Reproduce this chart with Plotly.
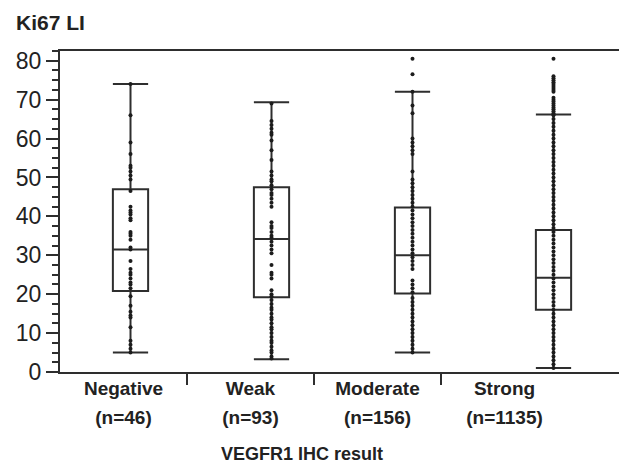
import plotly.graph_objects as go

categories = ["Negative", "Weak", "Moderate", "Strong"]
n_labels = ["(n=46)", "(n=93)", "(n=156)", "(n=1135)"]

q1 = [20.8, 19.2, 20.2, 16.0]
median = [31.5, 34.2, 30.0, 24.2]
q3 = [47.0, 47.5, 42.3, 36.5]
lowerfence = [5.0, 3.3, 5.0, 1.0]
upperfence = [74.0, 69.3, 72.0, 66.2]

negative_pts = [74, 66, 59, 56, 53, 52.5, 51.5, 50.5, 49.5, 46.5, 42.5, 41.5, 41, 40.5,
                39.5, 39, 36, 35.5, 35, 34, 32, 31.5, 28.5, 26.5, 25.5, 25, 24, 23,
                22.5, 21.5, 19.5, 17, 15.5, 14.5, 14, 11.5, 8, 7, 6, 5]
weak_pts = [69, 64.5, 63.5, 62.5, 61.5, 61, 59.5, 57, 54.5, 51.5, 50.5, 49.5, 49, 48,
            47, 46, 45.5, 44.5, 43.5, 42.5, 38.5, 37.5, 37, 36, 35, 34.5, 33.5, 32.5,
            31.5, 30.5, 27.5, 25.5, 25, 24, 21, 20, 19.5, 18.5, 17.5, 16.5, 16, 15,
            14, 13.5, 12.5, 11.5, 11, 10, 9, 8, 7.5, 6.5, 5.5, 5, 4, 3.5]
moderate_pts = [80.5, 76.5, 72, 68.5, 66.5, 60, 59, 58, 57, 56, 51.5, 49.5, 48.5, 47.5,
                46.5, 45.5, 44.5, 43.5, 42.5, 41.5, 40.5, 39.5, 38.5, 37.5, 36.5, 35.5,
                34.5, 33.5, 32.5, 31.5, 30.5, 29.5, 28.5, 27.5, 26.5, 23.5, 22.5, 21.5,
                20.5, 19, 18, 17, 16, 15, 14, 13, 12, 11, 10, 9, 8, 7, 6, 5]
strong_pts = [80.5, 76, 75.5, 75, 74.5, 74, 73.5, 73, 72.5, 72, 70.5, 70, 69.5, 69,
              68.5, 68, 67.5, 67, 66.5, 66, 65, 64, 63, 62, 61, 60, 59, 58, 57, 56,
              55, 54, 53, 52, 51, 50, 49, 48, 47, 46, 45, 44, 43, 42, 41, 40, 39, 38,
              37, 36, 35, 34, 33, 32, 31, 30, 29, 28, 27, 26, 25, 24, 23, 22, 21, 20,
              19, 18, 17, 16, 15, 14, 13, 12, 11, 10, 9, 8, 7, 6, 5, 4, 3, 2, 1]

point_sets = [negative_pts, weak_pts, moderate_pts, strong_pts]

LINE = "#2e2e2e"
FONT = "Liberation Sans, Arial, sans-serif"

fig = go.Figure()
fig.add_trace(go.Box(
    x=categories, q1=q1, median=median, q3=q3,
    lowerfence=lowerfence, upperfence=upperfence,
    fillcolor="white", line=dict(color=LINE, width=2),
    width=0.25, whiskerwidth=1, boxpoints=False, showlegend=False,
    hoverinfo="skip",
))

px_x, px_y = [], []
for cat, vals in zip(categories, point_sets):
    px_x += [cat] * len(vals)
    px_y += vals
fig.add_trace(go.Scatter(
    x=px_x, y=px_y, mode="markers",
    marker=dict(color="#1c1c1c", size=4, line=dict(width=0)),
    showlegend=False,
))

axis_common = dict(showline=False, showgrid=False, zeroline=False, automargin=False)

# page body has an 8px margin, so the figure is 8px smaller than the window
fig.update_layout(
    width=619, height=456,
    margin=dict(l=52, r=3, t=43, b=92),
    plot_bgcolor="white", paper_bgcolor="white",
    font=dict(family=FONT, color="#222"),
    xaxis=dict(
        type="category", categoryorder="array", categoryarray=categories,
        range=[-0.5, 3.5], showline=True, linecolor=LINE, linewidth=2,
        mirror=True, ticks="", showticklabels=False, showgrid=False,
        zeroline=False, automargin=False,
    ),
    xaxis2=dict(
        overlaying="x", anchor="y", range=[0, 564 / 127],
        tickmode="array", tickvals=[1, 2, 3], ticks="outside", ticklen=12,
        tickwidth=2, tickcolor=LINE, showticklabels=False, **axis_common,
    ),
    xaxis3=dict(
        overlaying="x", anchor="y", range=[0, 564 / 127],
        tickmode="array", tickvals=[0.5, 1.5, 2.5, 3.5],
        ticktext=["<b>%s</b>" % c for c in categories],
        ticks="", tickfont=dict(size=19, color="#222"),
        ticklabelstandoff=3, **axis_common,
    ),
    xaxis4=dict(
        overlaying="x", anchor="y", range=[0, 564 / 127],
        tickmode="array", tickvals=[0.5, 1.5, 2.5, 3.5],
        ticktext=["<b>%s</b>" % n for n in n_labels],
        ticks="", tickfont=dict(size=19, color="#222"),
        ticklabelstandoff=32, **axis_common,
    ),
    yaxis=dict(
        range=[0, 82.5], tickmode="linear", tick0=0, dtick=10,
        ticks="outside", ticklen=12, tickwidth=2, tickcolor=LINE,
        minor=dict(dtick=2.5, tick0=0, ticks="outside", ticklen=6,
                   tickwidth=1.5, tickcolor=LINE),
        showline=True, linecolor=LINE, linewidth=2, mirror=True,
        showgrid=False, zeroline=False, automargin=False,
        tickfont=dict(size=23, color="#222"),
    ),
    annotations=[
        dict(text="<b>Ki67 LI</b>", xref="paper", yref="paper",
             x=-46 / 564, y=1 + 28 / 321, xanchor="left", yanchor="middle",
             showarrow=False, font=dict(size=21, color="#222")),
        dict(text="<b>VEGFR1 IHC result</b>", xref="paper", yref="paper",
             x=242 / 564, y=-82 / 321, xanchor="center", yanchor="middle",
             showarrow=False, font=dict(size=18, color="#222")),
    ],
)

# attach invisible traces so overlay axes render
for ax in ["x2", "x3", "x4"]:
    fig.add_trace(go.Scatter(x=[None], y=[None], xaxis=ax, yaxis="y",
                             showlegend=False, hoverinfo="skip"))

fig.write_html("out.html")
